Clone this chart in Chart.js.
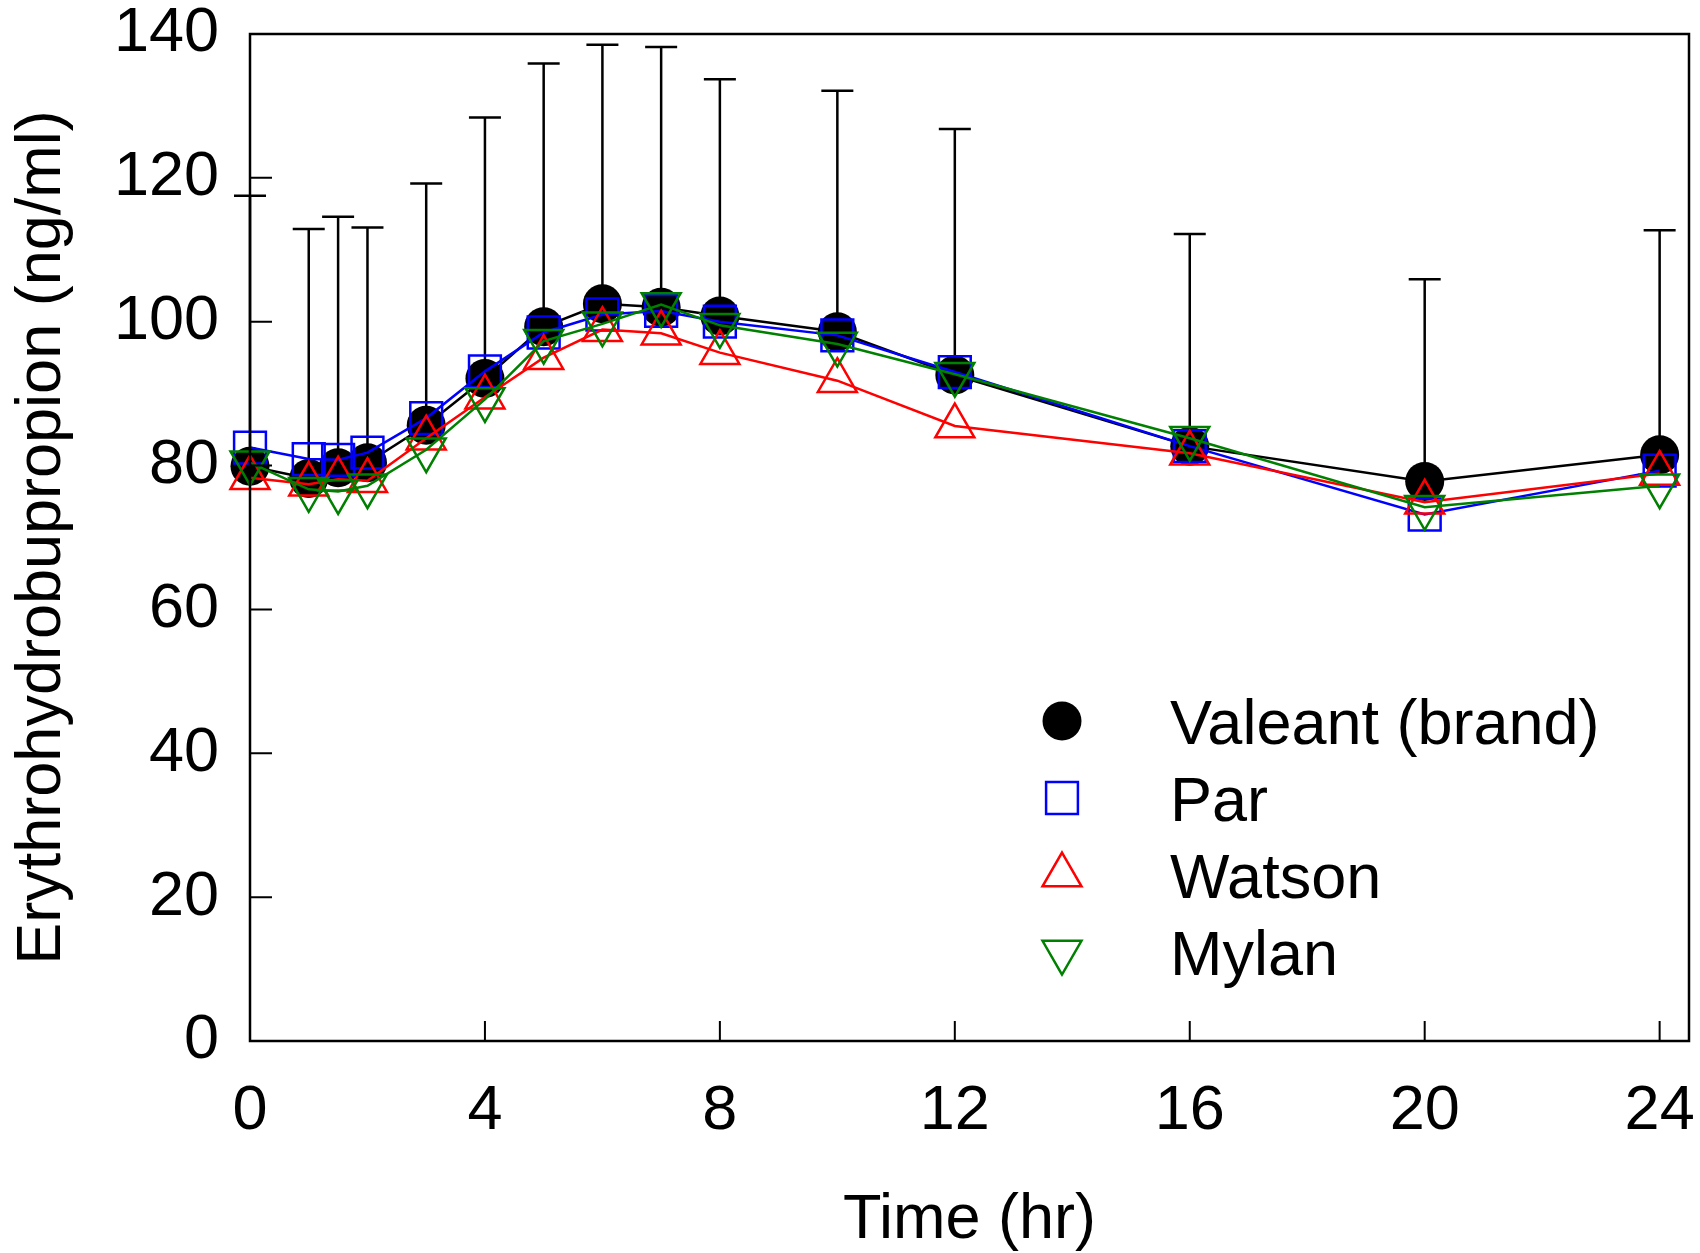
<!DOCTYPE html>
<html>
<head>
<meta charset="utf-8">
<script src="https://cdn.jsdelivr.net/npm/chart.js@4/dist/chart.umd.min.js"></script>
<style>
html,body{margin:0;padding:0;background:#fff;}
#wrap{width:1700px;height:1253px;}
</style>
</head>
<body>
<div id="wrap"><canvas id="c" width="1700" height="1253"></canvas></div>
<script>
// ---- data ----
const times     = [0, 1, 1.5, 2, 3, 4, 5, 6, 7, 8, 10, 12, 16, 20, 24];
const valeant   = [79.9, 78.2, 79.7, 80.4, 85.6, 92.1, 99.3, 102.5, 102.0, 100.8, 98.6, 92.6, 82.7, 77.8, 81.5];
const valeantSD = [37.6, 34.7, 34.9, 32.7, 33.6, 36.3, 36.6, 36.0, 36.2, 32.9, 33.5, 34.2, 29.5, 28.1, 31.2];
const par       = [82.5, 80.9, 80.8, 81.8, 86.6, 93.1, 98.5, 101.0, 101.5, 100.0, 98.1, 93.0, 82.7, 73.2, 79.3];
const watson    = [78.3, 77.4, 78.1, 77.9, 83.8, 89.5, 95.0, 98.9, 98.4, 95.7, 91.8, 85.5, 81.7, 74.9, 78.9];
const mylan     = [80.4, 76.7, 76.4, 77.2, 82.2, 89.2, 97.3, 99.7, 102.4, 99.5, 96.9, 92.7, 83.8, 74.2, 77.2];
const seriesLabels = ['Valeant (brand)', 'Par', 'Watson', 'Mylan'];
const xTicks = [0, 4, 8, 12, 16, 20, 24];
const yTicks = [0, 20, 40, 60, 80, 100, 120, 140];
const xTitle = 'Time (hr)';
const yTitle = 'Erythrohydrobupropion (ng/ml)';

const FONT = '"Liberation Sans", Arial, Helvetica, sans-serif';
const toXY = arr => times.map((t, i) => ({x: t, y: arr[i]}));

function drawMarker(ctx, style, rot, r, x, y, fill, stroke, lw) {
  ctx.save();
  ctx.beginPath();
  if (style === 'circle') {
    ctx.arc(x, y, r, 0, Math.PI * 2);
    ctx.fillStyle = fill; ctx.fill();
  } else if (style === 'rect') {
    const h = r * Math.SQRT1_2;
    ctx.rect(x - h, y - h, 2 * h, 2 * h);
    ctx.lineWidth = lw; ctx.strokeStyle = stroke; ctx.stroke();
  } else if (style === 'triangle') {
    let a = rot * Math.PI / 180;
    ctx.moveTo(x + Math.sin(a) * r, y - Math.cos(a) * r);
    a += 2 * Math.PI / 3;
    ctx.lineTo(x + Math.sin(a) * r, y - Math.cos(a) * r);
    a += 2 * Math.PI / 3;
    ctx.lineTo(x + Math.sin(a) * r, y - Math.cos(a) * r);
    ctx.closePath();
    ctx.lineWidth = lw; ctx.strokeStyle = stroke; ctx.stroke();
  }
  ctx.restore();
}

const errorBars = {
  id: 'errorBars',
  beforeDatasetsDraw(chart) {
    const {ctx, scales: {x, y}} = chart;
    ctx.save();
    ctx.strokeStyle = '#000';
    ctx.lineWidth = 2.5;
    times.forEach((t, i) => {
      const px = x.getPixelForValue(t);
      const y0 = y.getPixelForValue(valeant[i]);
      const y1 = y.getPixelForValue(valeant[i] + valeantSD[i]);
      ctx.beginPath();
      ctx.moveTo(px, y0); ctx.lineTo(px, y1);
      ctx.moveTo(px - 16, y1); ctx.lineTo(px + 16, y1);
      ctx.stroke();
    });
    ctx.restore();
  }
};

const frameAndTicks = {
  id: 'frameAndTicks',
  afterDatasetsDraw(chart) {
    const {ctx, chartArea: a, scales: {x, y}} = chart;
    ctx.save();
    ctx.strokeStyle = '#000';
    ctx.lineWidth = 2;
    ctx.beginPath();
    xTicks.forEach(v => {
      const px = x.getPixelForValue(v);
      ctx.moveTo(px, a.bottom); ctx.lineTo(px, a.bottom - 20);
    });
    yTicks.forEach(v => {
      const py = y.getPixelForValue(v);
      ctx.moveTo(a.left, py); ctx.lineTo(a.left + 22, py);
    });
    ctx.stroke();
    ctx.lineWidth = 2.5;
    ctx.strokeRect(a.left, a.top, a.right - a.left, a.bottom - a.top);
    ctx.restore();
  }
};

const insideLegend = {
  id: 'insideLegend',
  afterDraw(chart) {
    const ctx = chart.ctx;
    const mx = 1062, tx = 1170, y0 = 721, dy = 77;
    chart.data.datasets.forEach((ds, i) => {
      const cy = y0 + i * dy;
      drawMarker(ctx, ds.pointStyle, ds.pointRotation || 0, ds.pointRadius, mx, cy,
                 ds.pointBackgroundColor, ds.pointBorderColor, ds.pointBorderWidth);
      ctx.save();
      ctx.fillStyle = '#000';
      ctx.font = '63px ' + FONT;
      ctx.textAlign = 'left';
      ctx.textBaseline = 'alphabetic';
      ctx.fillText(ds.label, tx, cy + 22.6);
      ctx.restore();
    });
  }
};

const tickFont = {family: FONT, size: 63, lineHeight: 1};
function zeroPad(s) { s.paddingTop = 0; s.paddingBottom = 0; s.paddingLeft = 0; s.paddingRight = 0; }

new Chart(document.getElementById('c'), {
  type: 'line',
  data: {
    datasets: [
      {label: seriesLabels[0], data: toXY(valeant), order: 3, clip: false,
       borderColor: '#000', borderWidth: 2.5, tension: 0, fill: false,
       pointStyle: 'circle', pointRadius: 19.5, pointBackgroundColor: '#000',
       pointBorderColor: '#000', pointBorderWidth: 0},
      {label: seriesLabels[1], data: toXY(par), order: 2, clip: false,
       borderColor: '#0000ff', borderWidth: 2.5, tension: 0, fill: false,
       pointStyle: 'rect', pointRadius: 22.5, pointBackgroundColor: 'rgba(0,0,0,0)',
       pointBorderColor: '#0000ff', pointBorderWidth: 2.5},
      {label: seriesLabels[2], data: toXY(watson), order: 1, clip: false,
       borderColor: '#ff0000', borderWidth: 2.5, tension: 0, fill: false,
       pointStyle: 'triangle', pointRotation: 0, pointRadius: 22.5, pointBackgroundColor: 'rgba(0,0,0,0)',
       pointBorderColor: '#ff0000', pointBorderWidth: 2.5},
      {label: seriesLabels[3], data: toXY(mylan), order: 0, clip: false,
       borderColor: '#008000', borderWidth: 2.5, tension: 0, fill: false,
       pointStyle: 'triangle', pointRotation: 180, pointRadius: 22.5, pointBackgroundColor: 'rgba(0,0,0,0)',
       pointBorderColor: '#008000', pointBorderWidth: 2.5}
    ]
  },
  options: {
    responsive: false,
    animation: false,
    events: [],
    devicePixelRatio: 1,
    layout: {autoPadding: false, padding: {left: 0, right: 11, top: 34, bottom: 0}},
    plugins: {legend: {display: false}, tooltip: {enabled: false}, title: {display: false}},
    scales: {
      x: {
        type: 'linear', min: 0, max: 24.5,
        afterBuildTicks: s => { s.ticks = xTicks.map(v => ({value: v})); },
        afterFit: s => { s.height = 212; zeroPad(s); },
        grid: {display: false, drawTicks: false},
        border: {display: false},
        ticks: {font: tickFont, color: '#000', padding: 39, maxRotation: 0, autoSkip: false},
        title: {display: true, text: xTitle, color: '#000',
                font: {family: FONT, size: 63, lineHeight: 1}, padding: {top: 0, bottom: 1}}
      },
      y: {
        type: 'linear', min: 0, max: 140,
        afterBuildTicks: s => { s.ticks = yTicks.map(v => ({value: v})); },
        afterFit: s => { s.width = 250; zeroPad(s); },
        grid: {display: false, drawTicks: false},
        border: {display: false},
        ticks: {font: tickFont, color: '#000', padding: 31, autoSkip: false},
        title: {display: true, text: yTitle, color: '#000',
                font: {family: FONT, size: 63, lineHeight: 1}, padding: {top: 11.5, bottom: 0}}
      }
    }
  },
  plugins: [errorBars, frameAndTicks, insideLegend]
});
</script>
</body>
</html>
